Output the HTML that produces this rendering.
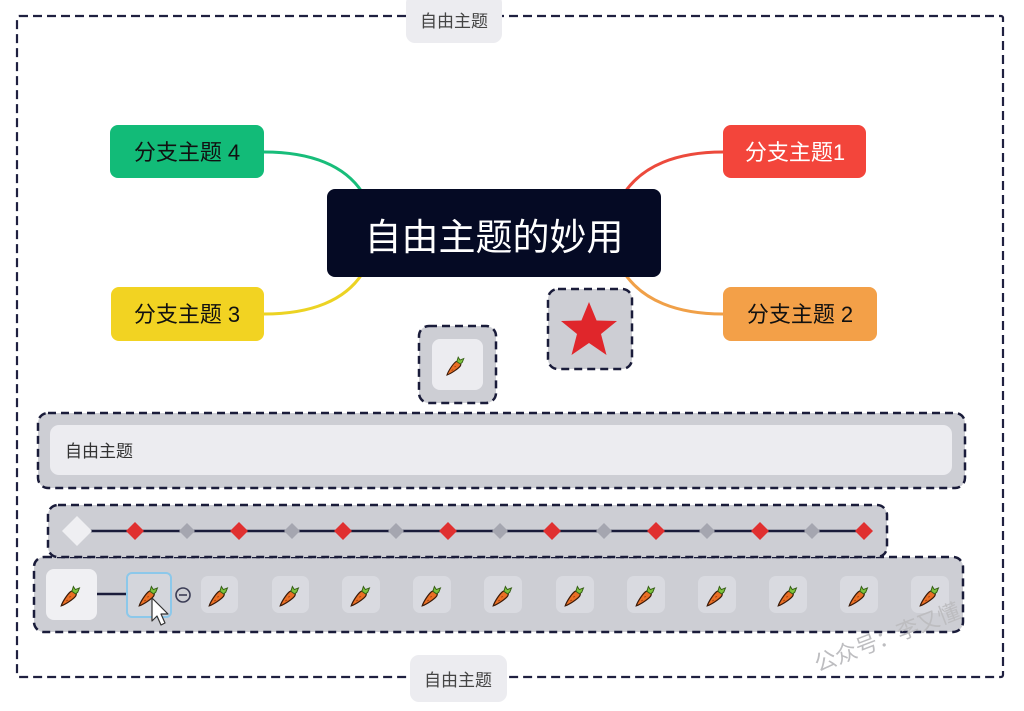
<!DOCTYPE html>
<html><head><meta charset="utf-8"><style>
html,body{margin:0;padding:0;background:#fff;}
svg{display:block;}
text{font-family:"Liberation Sans","Noto Sans CJK SC",sans-serif;}
</style></head><body>
<svg width="1024" height="711" viewBox="0 0 1024 711" xmlns="http://www.w3.org/2000/svg">
<defs>
<symbol id="carrot" viewBox="0 0 24 24">
<path d="M3,22 C4,18.5 8.5,11.5 11.5,9 C14.5,6.8 18.2,9.8 16.3,13 C14,16 7,20.5 3,22 Z" fill="#ea6f25" stroke="#3a1a08" stroke-width="1.1"/>
<path d="M7.5,17.5 L9.3,16.7 M10.3,14 L12,13.3" stroke="#a8440f" stroke-width="0.9"/>
<path d="M12.8,8.6 L14.2,4.2 L16,7 L19.8,5.5 L18.2,9.5 L16.2,11 Z" fill="#7cc23b" stroke="#355e15" stroke-width="0.9"/>
</symbol>
</defs>

<!-- outer dashed frame -->
<rect x="17" y="16" width="986" height="661" rx="2" fill="none" stroke="#1f2040" stroke-width="2.2" stroke-dasharray="9 5"/>
<rect x="406" y="-6" width="96" height="49" rx="9" fill="#ececf0"/>
<text x="454" y="27" font-size="17" fill="#444" text-anchor="middle">自由主题</text>
<rect x="410" y="655" width="97" height="47" rx="9" fill="#ececf0"/>
<text x="458" y="686" font-size="17" fill="#444" text-anchor="middle">自由主题</text>

<!-- connectors -->
<path d="M264,152 C312,152 345,166 362,192" fill="none" stroke="#18bd7a" stroke-width="3"/>
<path d="M723,152 C676,152 643,166 625,192" fill="none" stroke="#ec4a3c" stroke-width="3"/>
<path d="M264,314 C312,314 345,300 362,274" fill="none" stroke="#ecd323" stroke-width="3"/>
<path d="M723,314 C676,314 643,300 625,274" fill="none" stroke="#f0a048" stroke-width="3"/>

<!-- branch nodes -->
<rect x="110" y="125" width="154" height="53" rx="8" fill="#12bb78"/>
<text x="187" y="160" font-size="22" fill="#111" text-anchor="middle">分支主题 4</text>
<rect x="723" y="125" width="143" height="53" rx="8" fill="#f3453b"/>
<text x="795" y="160" font-size="22" fill="#fff" text-anchor="middle">分支主题1</text>
<rect x="111" y="287" width="153" height="54" rx="8" fill="#f2d322"/>
<text x="187" y="322" font-size="22" fill="#111" text-anchor="middle">分支主题 3</text>
<rect x="723" y="287" width="154" height="54" rx="8" fill="#f3a048"/>
<text x="800" y="322" font-size="22" fill="#111" text-anchor="middle">分支主题 2</text>

<!-- central -->
<rect x="327" y="189" width="334" height="88" rx="8" fill="#050a24"/>
<text x="494" y="250" font-size="37" fill="#fff" text-anchor="middle">自由主题的妙用</text>

<!-- carrot small box -->
<rect x="419" y="326" width="77" height="77" rx="10" fill="#cdced4" stroke="#1a1c3a" stroke-width="2.5" stroke-dasharray="8 5"/>
<rect x="432" y="339" width="51" height="51" rx="8" fill="#ececf0"/>
<use href="#carrot" x="444" y="353" width="24" height="24"/>

<!-- star box -->
<rect x="548" y="289" width="84" height="80" rx="10" fill="#cdced4" stroke="#1a1c3a" stroke-width="2.5" stroke-dasharray="8 5"/>
<polygon points="589,302 596.6,320.5 617,321 601,334 606.5,355 589,343 571.5,355 577,334 561,321 581.4,320.5" fill="#e0262b"/>

<!-- wide bar -->
<rect x="38" y="413" width="927" height="75" rx="10" fill="#cdced4" stroke="#1a1c3a" stroke-width="2.5" stroke-dasharray="8 5"/>
<rect x="50" y="425" width="902" height="50" rx="9" fill="#ececf0"/>
<text x="65" y="457" font-size="17" fill="#333">自由主题</text>

<!-- carrot row box -->
<rect x="34" y="557" width="929" height="75" rx="10" fill="#cdced4" stroke="#1a1c3a" stroke-width="2.5" stroke-dasharray="8 5"/>

<!-- diamond row box -->
<rect x="48" y="505" width="839" height="52" rx="10" fill="#cdced4" stroke="#1a1c3a" stroke-width="2.5" stroke-dasharray="8 5"/>
<line x1="80" y1="531" x2="864" y2="531" stroke="#1a1c3a" stroke-width="2.5"/>
<polygon points="77,516 92,531 77,546 62,531" fill="#efeff2"/>
<g fill="#e03030">
<polygon points="135,522 144,531 135,540 126,531"/>
<polygon points="239,522 248,531 239,540 230,531"/>
<polygon points="343,522 352,531 343,540 334,531"/>
<polygon points="448,522 457,531 448,540 439,531"/>
<polygon points="552,522 561,531 552,540 543,531"/>
<polygon points="656,522 665,531 656,540 647,531"/>
<polygon points="760,522 769,531 760,540 751,531"/>
<polygon points="864,522 873,531 864,540 855,531"/>
</g>
<g fill="#a5a6b0">
<polygon points="187,523 195,531 187,539 179,531"/>
<polygon points="292,523 300,531 292,539 284,531"/>
<polygon points="396,523 404,531 396,539 388,531"/>
<polygon points="500,523 508,531 500,539 492,531"/>
<polygon points="604,523 612,531 604,539 596,531"/>
<polygon points="707,523 715,531 707,539 699,531"/>
<polygon points="812,523 820,531 812,539 804,531"/>
</g>

<!-- carrot row items -->
<rect x="46" y="569" width="51" height="51" rx="8" fill="#f0f0f3"/>
<use href="#carrot" x="58" y="582" width="26" height="26"/>
<line x1="97" y1="594" x2="128" y2="594" stroke="#1a1c3a" stroke-width="2.5"/>
<rect x="127" y="573" width="44" height="44" rx="5" fill="#d4d6dc" stroke="#8cc8ea" stroke-width="2"/>
<use href="#carrot" x="136" y="582" width="26" height="26"/>
<circle cx="183" cy="595" r="7" fill="none" stroke="#3a3c55" stroke-width="1.6"/>
<line x1="179" y1="595" x2="187" y2="595" stroke="#3a3c55" stroke-width="1.6"/>
<g fill="#d9dae0">
<rect x="201" y="576" width="37" height="37" rx="7"/>
<rect x="272" y="576" width="37" height="37" rx="7"/>
<rect x="342" y="576" width="38" height="37" rx="7"/>
<rect x="413" y="576" width="38" height="37" rx="7"/>
<rect x="484" y="576" width="38" height="37" rx="7"/>
<rect x="556" y="576" width="38" height="37" rx="7"/>
<rect x="627" y="576" width="38" height="37" rx="7"/>
<rect x="698" y="576" width="38" height="37" rx="7"/>
<rect x="769" y="576" width="38" height="37" rx="7"/>
<rect x="840" y="576" width="38" height="37" rx="7"/>
<rect x="911" y="576" width="38" height="37" rx="7"/>
</g>
<use href="#carrot" x="206" y="582" width="26" height="26"/>
<use href="#carrot" x="277" y="582" width="26" height="26"/>
<use href="#carrot" x="348" y="582" width="26" height="26"/>
<use href="#carrot" x="419" y="582" width="26" height="26"/>
<use href="#carrot" x="490" y="582" width="26" height="26"/>
<use href="#carrot" x="562" y="582" width="26" height="26"/>
<use href="#carrot" x="633" y="582" width="26" height="26"/>
<use href="#carrot" x="704" y="582" width="26" height="26"/>
<use href="#carrot" x="775" y="582" width="26" height="26"/>
<use href="#carrot" x="846" y="582" width="26" height="26"/>
<use href="#carrot" x="917" y="582" width="26" height="26"/>

<!-- cursor -->
<polygon points="152,598 152,621 157,616 161,625 165,623 161,614 168,614" fill="#fff" stroke="#333" stroke-width="1.2" stroke-linejoin="round"/>

<!-- watermark -->
<text x="0" y="0" font-size="22" fill="#bdbdc0" transform="translate(818,672) rotate(-21)">公众号：李又懂</text>
</svg>
</body></html>
